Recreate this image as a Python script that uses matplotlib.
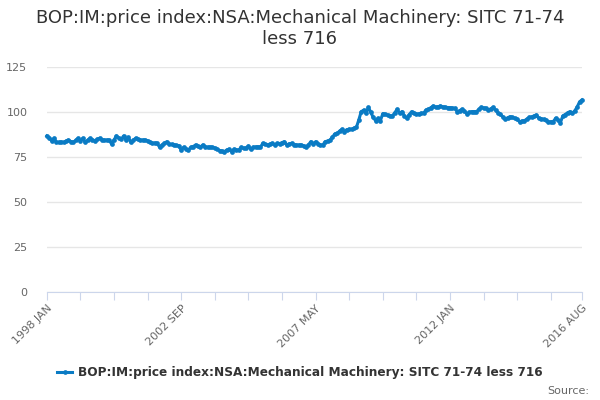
import matplotlib
matplotlib.use("Agg")
import matplotlib.pyplot as plt
import numpy as np

# monthly index values, 1998 JAN .. 2016 AUG
v1998 = [86.7, 85.8, 84.0, 85.4, 83.3, 83.1, 83.4, 83.1, 83.8, 84.4, 83.6, 83.1]
v1999 = [84.2, 85.4, 84.0, 85.4, 83.1, 84.3, 85.4, 84.6, 84.0, 84.8, 85.4, 84.6]
v2000 = [84.4, 84.4, 84.4, 82.2, 84.5, 86.7, 85.6, 84.8, 86.7, 84.4, 85.9, 83.1]
v2001 = [84.3, 85.4, 84.9, 84.4, 84.4, 84.4, 84.0, 83.2, 82.6, 82.8, 82.6, 80.4]
v2002 = [81.7, 82.6, 83.5, 82.2, 82.0, 81.7, 81.4, 81.3, 78.9, 80.4, 79.6, 78.9]
v2003 = [80.4, 80.8, 81.7, 80.9, 80.4, 81.7, 80.8, 80.4, 80.5, 80.4, 80.0, 79.3]
v2004 = [78.6, 78.3, 78.0, 78.9, 79.3, 78.0, 79.3, 79.0, 78.9, 80.4, 79.8, 79.9]
v2005 = [81.1, 79.3, 80.4, 80.6, 80.7, 80.4, 82.6, 82.0, 81.7, 82.2, 82.6, 81.7]
v2006 = [82.6, 82.4, 83.0, 83.5, 81.7, 82.3, 82.6, 81.9, 81.7, 81.6, 81.7, 81.2]
v2007 = [80.4, 81.7, 83.5, 82.2, 83.5, 82.4, 81.7, 81.7, 83.5, 83.9, 84.4, 86.0]
v2008 = [87.8, 88.1, 89.4, 90.4, 89.1, 90.2, 90.4, 90.4, 91.0, 91.5, 95.6, 100.2]
v2009 = [101.0, 99.3, 102.6, 99.8, 97.0, 95.2, 96.5, 95.2, 99.1, 98.7, 98.3, 97.8]
v2010 = [97.8, 99.6, 101.5, 99.3, 100.2, 97.8, 96.5, 98.5, 100.2, 99.4, 98.7, 99.0]
v2011 = [99.3, 99.4, 101.1, 101.5, 102.4, 103.3, 102.6, 102.9, 103.3, 102.8, 102.6, 102.5]
v2012 = [102.4, 102.2, 102.0, 100.2, 100.8, 101.5, 100.6, 99.0, 99.8, 100.2, 100.2, 100.2]
v2013 = [101.4, 102.6, 102.2, 102.0, 101.1, 101.8, 102.6, 101.0, 99.6, 98.7, 97.3, 95.9]
v2014 = [96.8, 97.4, 97.0, 96.5, 95.9, 94.6, 95.0, 95.2, 96.0, 97.0, 97.3, 97.8]
v2015 = [98.3, 96.5, 96.3, 95.9, 95.3, 94.6, 94.6, 94.6, 96.5, 95.5, 94.1, 97.8]
v2016 = [98.6, 99.6, 100.2, 99.3, 100.7, 102.8, 105.7, 106.7]

values = (v1998 + v1999 + v2000 + v2001 + v2002 + v2003 + v2004 + v2005 + v2006
          + v2007 + v2008 + v2009 + v2010 + v2011 + v2012 + v2013 + v2014 + v2015 + v2016)

months = ["JAN", "FEB", "MAR", "APR", "MAY", "JUN", "JUL", "AUG", "SEP", "OCT", "NOV", "DEC"]
dates = ["%d %s" % (1998 + k // 12, months[k % 12]) for k in range(len(values))]

series_name = "BOP:IM:price index:NSA:Mechanical Machinery: SITC 71-74 less 716"
title = "BOP:IM:price index:NSA:Mechanical Machinery: SITC 71-74\nless 716"
yticks = [0, 25, 50, 75, 100, 125]

line_color = "#0a7bc4"
axis_color = "#ccd6eb"
grid_color = "#e6e6e6"
label_color = "#666666"

fig = plt.figure(figsize=(6, 4), dpi=100)
ax = fig.add_axes([0.078, 0.27, 0.892, 0.5625])

x = np.arange(len(values))
ax.plot(x, values, color=line_color, lw=2.2, marker="o", ms=3.4,
        markeredgewidth=0, clip_on=False, label=series_name)

# axes styling
ax.set_xlim(0, len(values) - 1)
ax.set_ylim(0, 125)
ax.set_yticks(yticks)
ax.yaxis.grid(True, color=grid_color, lw=1)
ax.set_axisbelow(True)
for side in ["top", "right", "left"]:
    ax.spines[side].set_visible(False)
ax.spines["bottom"].set_color(axis_color)
ax.tick_params(axis="y", length=0, labelsize=8, labelcolor=label_color, pad=14)

# ticks every 14 months, last one at the end
tick_pos = list(range(0, len(values) - 1, 14)) + [len(values) - 1]
ax.set_xticks(tick_pos)
ax.set_xticklabels([dates[p] if p % 56 == 0 or p == len(values) - 1 else "" for p in tick_pos],
                   rotation=45, ha="right", rotation_mode="anchor")
ax.tick_params(axis="x", length=6, color=axis_color, labelsize=8,
               labelcolor=label_color, pad=2)

fig.suptitle(title, y=0.977, fontsize=13, color="#333333", linespacing=1.2)

leg = fig.legend(loc="center", bbox_to_anchor=(0.5, 0.068), frameon=False,
                 fontsize=8.7, handlelength=1.2, handletextpad=0.5)
for t in leg.get_texts():
    t.set_color("#333333")
    t.set_fontweight("bold")

fig.text(0.982, 0.022, "Source:", ha="right", va="center", fontsize=8, color=label_color)

fig.savefig("out.png", dpi=100)
